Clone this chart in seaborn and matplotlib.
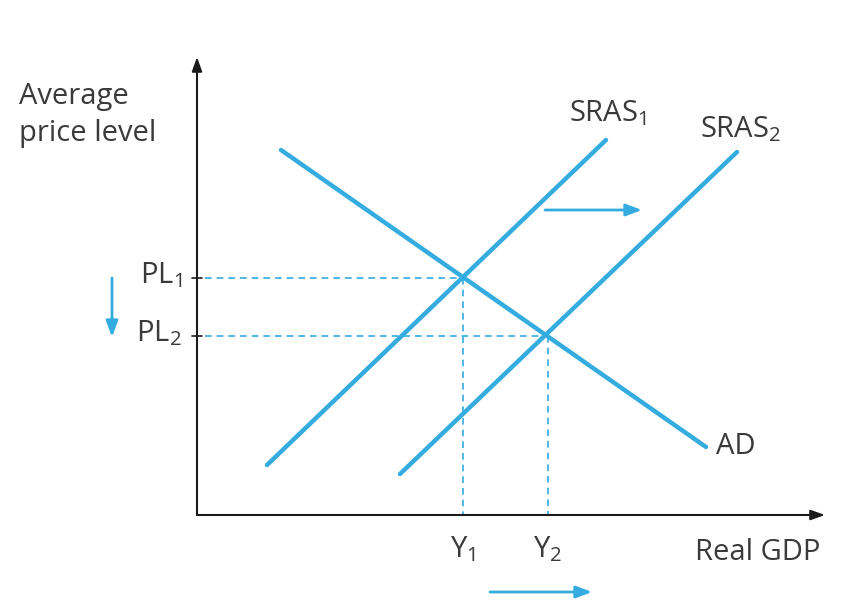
import matplotlib
matplotlib.use("Agg")
import matplotlib.pyplot as plt
import seaborn as sns
import pandas as pd

sns.set_theme(style="white")
plt.rcParams['font.family'] = ['Open Sans', 'DejaVu Sans']
plt.rcParams['mathtext.default'] = 'regular'

# Schematic data (origin at axis corner)
ad_x = [84, 509]
ad_y = [365, 68]
sras1_x = [70, 409]
sras1_y = [50, 375]
sras2_x = [203, 540]
sras2_y = [41, 363]
eq_x = [266, 351]      # Y1, Y2
eq_y = [237, 179]      # PL1, PL2
x_labels = ["Y$_1$", "Y$_2$"]
y_labels = ["PL$_1$", "PL$_2$"]

BLUE = "#35ace0"
TXT = "#3a3a3a"

fig = plt.figure(figsize=(8.6, 6.08), dpi=100)
ax = fig.add_axes([0, 0, 1, 1])
ax.set_xlim(-197, 663)
ax.set_ylim(-93, 515)
ax.axis("off")

df = pd.concat([
    pd.DataFrame({"x": ad_x, "y": ad_y, "curve": "AD"}),
    pd.DataFrame({"x": sras1_x, "y": sras1_y, "curve": "SRAS1"}),
    pd.DataFrame({"x": sras2_x, "y": sras2_y, "curve": "SRAS2"}),
])
sns.lineplot(data=df, x="x", y="y", units="curve", estimator=None, sort=False,
             color=BLUE, lw=3.2, ax=ax, legend=False)

# axes arrows
ax.annotate("", xy=(0, 458), xytext=(0, 0),
            arrowprops=dict(arrowstyle="-|>,head_length=0.7,head_width=0.25", color="#1a1a1a", lw=1.5, shrinkA=0, shrinkB=0))
ax.annotate("", xy=(628, 0), xytext=(0, 0),
            arrowprops=dict(arrowstyle="-|>,head_length=0.7,head_width=0.25", color="#1a1a1a", lw=1.5, shrinkA=0, shrinkB=0))

# dashed guides
for xv, yv in zip(eq_x, eq_y):
    ax.plot([8, xv], [yv, yv], ls=(0, (4, 3)), color=BLUE, lw=1.2)
    ax.plot([xv, xv], [yv, 0], ls=(0, (4, 3)), color=BLUE, lw=1.2)
    ax.plot([-5, 5], [yv, yv], color="#1a1a1a", lw=1.2)

fs = 21
for yv, lab in zip(eq_y, y_labels):
    ax.text(-15, yv + 3, lab, ha="right", va="center", fontsize=fs, color=TXT)
for xv, lab in zip(eq_x, x_labels):
    ax.text(xv, -34, lab, ha="center", va="center", fontsize=fs, color=TXT)

ax.text(-178, 400, "Average\nprice level", ha="left", va="center", fontsize=fs,
        color=TXT, linespacing=1.35)
ax.text(623, -38, "Real GDP", ha="right", va="center", fontsize=fs, color=TXT)
ax.text(519, 68, "AD", ha="left", va="center", fontsize=fs, color=TXT)
ax.text(372, 402, "SRAS$_1$", ha="left", va="center", fontsize=fs, color=TXT)
ax.text(503, 386, "SRAS$_2$", ha="left", va="center", fontsize=fs, color=TXT)

arrow_kw = dict(arrowstyle="-|>,head_length=0.8,head_width=0.3", color=BLUE, lw=2,
                shrinkA=0, shrinkB=0)
ax.annotate("", xy=(445, 305), xytext=(348, 305), arrowprops=arrow_kw)
ax.annotate("", xy=(-85, 178), xytext=(-85, 237), arrowprops=arrow_kw)
ax.annotate("", xy=(395, -77), xytext=(293, -77), arrowprops=arrow_kw)

fig.savefig("out.png", dpi=100, facecolor="white")
